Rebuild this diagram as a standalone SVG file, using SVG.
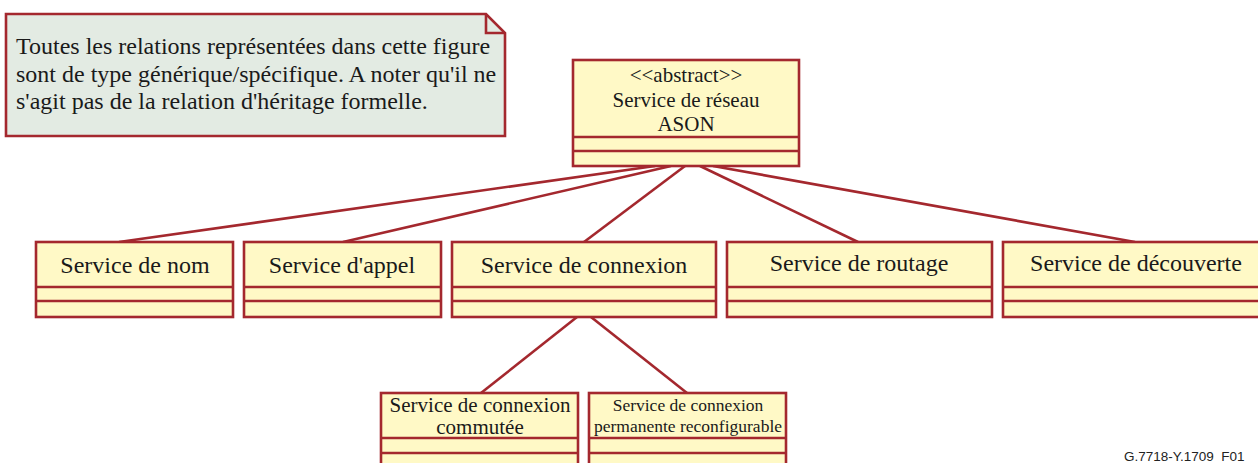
<svg xmlns="http://www.w3.org/2000/svg" width="1258" height="463" viewBox="0 0 1258 463">
  <style>
    .box { fill: #fff9c6; stroke: #a4282e; stroke-width: 2.6; }
    .sep { stroke: #a4282e; stroke-width: 2.6; fill: none; }
    .note { fill: #e3ebe3; stroke: #a4282e; stroke-width: 2.6; }
    .link { stroke: #a4282e; stroke-width: 2.6; fill: none; }
    .t { font-family: "Liberation Serif", "Times New Roman", serif; fill: #1a1a1a; text-anchor: middle; }
    .nt { font-family: "Liberation Serif", "Times New Roman", serif; fill: #1a1a1a; font-size: 24px; }
    .lbl { font-size: 24px; }
    .lbl2 { font-size: 21px; }
    .lbl3 { font-size: 17.5px; }
    .ref { font-family: "Liberation Sans", Arial, sans-serif; font-size: 13.5px; fill: #222; }
  </style>

  <!-- comment note -->
  <g id="note">
    <path class="note" d="M6,14 H486 L505,33 V136 H6 Z"/>
    <path class="sep" d="M486,14 V33 H505"/>
    <text class="nt" x="16" y="54">Toutes les relations représentées dans cette figure</text>
    <text class="nt" x="16" y="82">sont de type générique/spécifique. A noter qu'il ne</text>
    <text class="nt" x="16" y="109">s'agit pas de la relation d'héritage formelle.</text>
  </g>

  <!-- generalization links -->
  <g id="connectors">
    <line class="link" x1="655" y1="166" x2="119" y2="242"/>
    <line class="link" x1="671" y1="166" x2="343" y2="242"/>
    <line class="link" x1="685" y1="166" x2="584" y2="242"/>
    <line class="link" x1="700" y1="166" x2="858" y2="242"/>
    <line class="link" x1="713" y1="166" x2="1135" y2="242"/>
    <line class="link" x1="577" y1="317" x2="481" y2="393"/>
    <line class="link" x1="591" y1="317" x2="687" y2="393"/>
  </g>

  <g id="ason-network-service">
    <rect class="box" x="573" y="60" width="226" height="106"/>
    <path class="sep" d="M573,137 H799 M573,151 H799"/>
    <text class="t lbl2" x="686" y="82">&lt;&lt;abstract&gt;&gt;</text>
    <text class="t lbl2" x="686" y="107">Service de réseau</text>
    <text class="t lbl2" x="686" y="131">ASON</text>
  </g>

  <g id="naming-service">
    <rect class="box" x="36" y="242" width="197" height="75"/>
    <path class="sep" d="M36,287 H233 M36,301 H233"/>
    <text class="t lbl" x="135" y="273">Service de nom</text>
  </g>

  <g id="call-service">
    <rect class="box" x="244" y="242" width="197" height="75"/>
    <path class="sep" d="M244,287 H441 M244,301 H441"/>
    <text class="t lbl" x="342" y="273">Service d'appel</text>
  </g>

  <g id="connection-service">
    <rect class="box" x="452" y="242" width="264" height="75"/>
    <path class="sep" d="M452,287 H716 M452,301 H716"/>
    <text class="t lbl" x="584" y="273">Service de connexion</text>
  </g>

  <g id="routing-service">
    <rect class="box" x="727" y="242" width="265" height="75"/>
    <path class="sep" d="M727,287 H992 M727,301 H992"/>
    <text class="t lbl" x="859" y="271">Service de routage</text>
  </g>

  <g id="discovery-service">
    <rect class="box" x="1003" y="242" width="262" height="75"/>
    <path class="sep" d="M1003,287 H1265 M1003,301 H1265"/>
    <text class="t lbl" x="1136" y="271">Service de découverte</text>
  </g>

  <g id="switched-connection-service">
    <rect class="box" x="381" y="393" width="197" height="80"/>
    <path class="sep" d="M381,438 H578 M381,453 H578"/>
    <text class="t lbl2" x="480" y="412">Service de connexion</text>
    <text class="t lbl2" x="480" y="434">commutée</text>
  </g>

  <g id="soft-permanent-connection-service">
    <rect class="box" x="589" y="393" width="197" height="80"/>
    <path class="sep" d="M589,438 H786 M589,453 H786"/>
    <text class="t lbl3" x="688" y="411">Service de connexion</text>
    <text class="t lbl3" x="688" y="432">permanente reconfigurable</text>
  </g>

  <text class="ref" x="1124" y="461">G.7718-Y.1709_F01</text>
</svg>
